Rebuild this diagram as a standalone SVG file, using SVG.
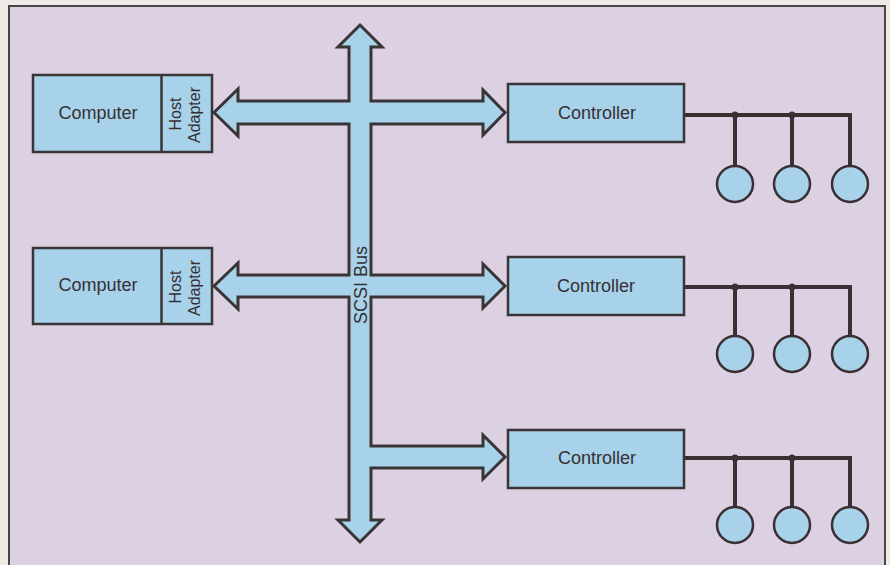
<svg xmlns="http://www.w3.org/2000/svg" width="890" height="565" viewBox="0 0 890 565">
<style>
.box{fill:#a8d1ea;stroke:#3a3436;stroke-width:2.5}
.lbl{font-family:"Liberation Sans",Arial,sans-serif;font-size:18px;fill:#353032;text-anchor:middle}
.sm{font-size:16px}
.wire{fill:none;stroke:#3a3034;stroke-width:4;stroke-linejoin:miter}
.disk{fill:#a8d1ea;stroke:#3a3034;stroke-width:2.5}
.dot{fill:#3a3034}
.bus{fill:#a8d1ea;stroke:#3a3436;stroke-width:3;stroke-linejoin:miter}
</style>
<rect x="0" y="0" width="890" height="565" fill="#eeeae6"/>
<rect x="9" y="6" width="876" height="570" fill="#dcd1e3" stroke="#4a4446" stroke-width="2"/>

<g id="connectors">
<path class="bus" d="M360,25 L382,47 L371,47 L371,101 L483,101 L483,90 L505,112.5 L483,135 L483,124 L371,124 L371,275 L483,275 L483,264 L505,286 L483,308 L483,297 L371,297 L371,446 L483,446 L483,435 L505,457 L483,479 L483,468 L371,468 L371,520 L382,520 L360,542 L338,520 L349,520 L349,297 L238,297 L238,309 L214,286 L238,263 L238,275 L349,275 L349,124 L238,124 L238,136 L214,112.5 L238,89 L238,101 L349,101 L349,47 L338,47 Z"/>
<text class="lbl" transform="translate(366.5,285) rotate(-90)">SCSI Bus</text>
<path class="wire" d="M684,115 H850 V166 M735,115 V166 M792,115 V166"/>
<path class="wire" d="M684,287 H850 V336 M735,287 V336 M792,287 V336"/>
<path class="wire" d="M684,458 H850 V507 M735,458 V507 M792,458 V507"/>
<circle class="dot" cx="735" cy="115" r="3.5"/>
<circle class="dot" cx="792" cy="115" r="3.5"/>
<circle class="dot" cx="735" cy="287" r="3.5"/>
<circle class="dot" cx="792" cy="287" r="3.5"/>
<circle class="dot" cx="735" cy="458" r="3.5"/>
<circle class="dot" cx="792" cy="458" r="3.5"/>
</g>

<g id="computer1">
<rect class="box" x="33" y="75" width="179" height="77"/>
<line x1="161.5" y1="75" x2="161.5" y2="152" stroke="#3a3436" stroke-width="2.5"/>
<text class="lbl" x="98" y="119">Computer</text>
<text class="lbl sm" transform="translate(180.5,114) rotate(-90)">Host</text>
<text class="lbl sm" transform="translate(199.5,115) rotate(-90)">Adapter</text>
</g>
<g id="computer2">
<rect class="box" x="33" y="248" width="179" height="76"/>
<line x1="161.5" y1="248" x2="161.5" y2="324" stroke="#3a3436" stroke-width="2.5"/>
<text class="lbl" x="98" y="291">Computer</text>
<text class="lbl sm" transform="translate(180.5,287) rotate(-90)">Host</text>
<text class="lbl sm" transform="translate(199.5,288) rotate(-90)">Adapter</text>
</g>

<g id="controller1">
<rect class="box" x="508" y="84" width="176" height="58"/>
<text class="lbl" x="597" y="119">Controller</text>
</g>
<g id="controller2">
<rect class="box" x="508" y="257" width="176" height="58"/>
<text class="lbl" x="596" y="292">Controller</text>
</g>
<g id="controller3">
<rect class="box" x="508" y="430" width="176" height="58"/>
<text class="lbl" x="597" y="464">Controller</text>
</g>

<g id="disks1">
<circle class="disk" cx="735" cy="184" r="18"/>
<circle class="disk" cx="792" cy="184" r="18"/>
<circle class="disk" cx="850" cy="184" r="18"/>
</g>
<g id="disks2">
<circle class="disk" cx="735" cy="354" r="18"/>
<circle class="disk" cx="792" cy="354" r="18"/>
<circle class="disk" cx="850" cy="354" r="18"/>
</g>
<g id="disks3">
<circle class="disk" cx="735" cy="525" r="18"/>
<circle class="disk" cx="792" cy="525" r="18"/>
<circle class="disk" cx="850" cy="525" r="18"/>
</g>
</svg>
